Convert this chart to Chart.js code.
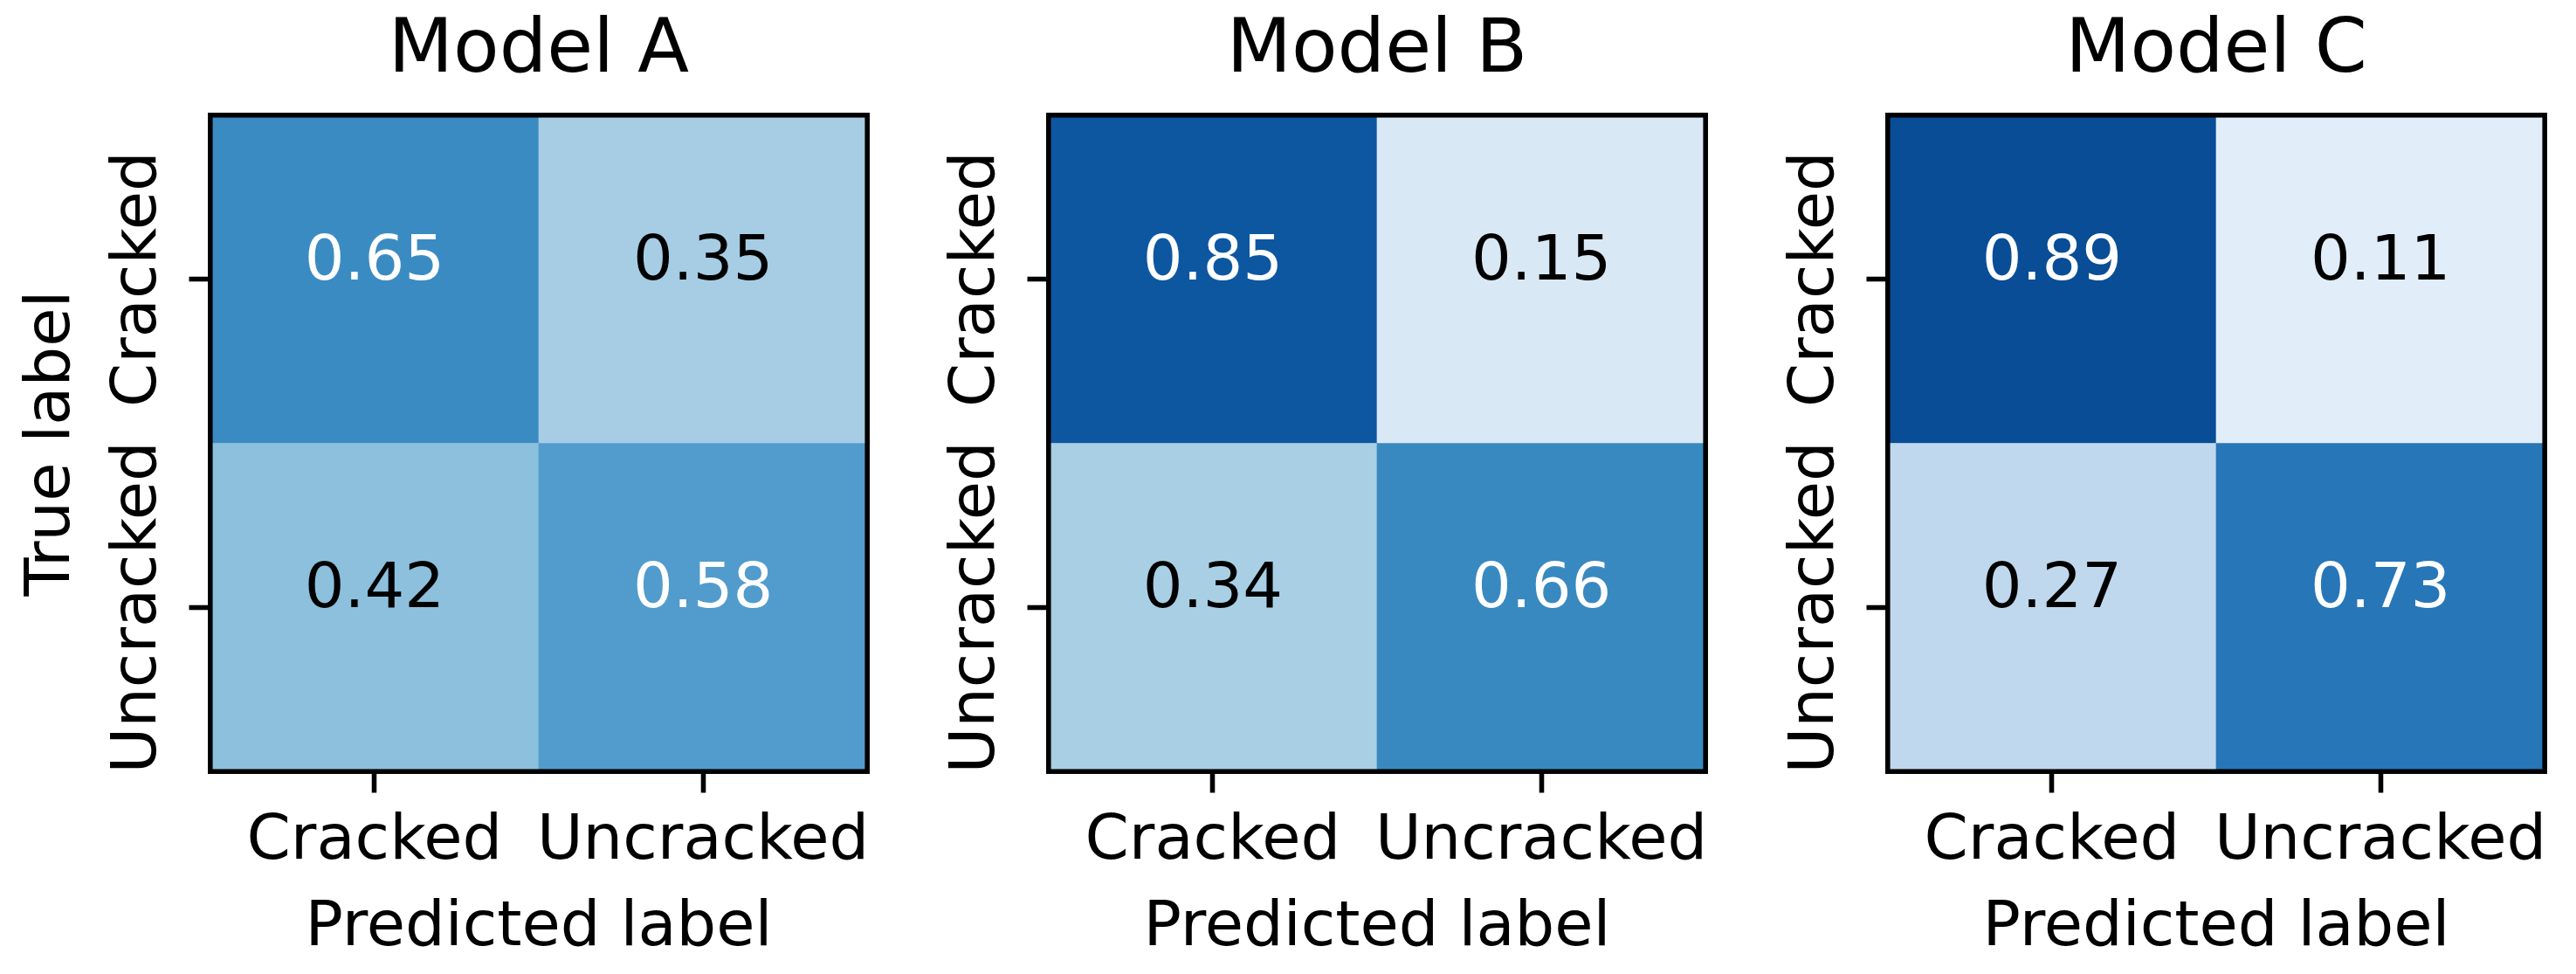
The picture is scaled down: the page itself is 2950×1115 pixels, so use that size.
<!DOCTYPE html>
<html>
<head>
<meta charset="utf-8">
<script src="https://cdn.jsdelivr.net/npm/chart.js@4.4.0/dist/chart.umd.min.js"></script>
<style>
  html, body { margin: 0; padding: 0; background: #fff; overflow: hidden; }
  #wrap { position: relative; width: 2950px; height: 1115px; }
  canvas { position: absolute; top: 0; }
</style>
</head>
<body>
<div id="wrap">
  <canvas id="cmA" width="1000" height="1115" style="left:0px"></canvas>
  <canvas id="cmB" width="1000" height="1115" style="left:960px"></canvas>
  <canvas id="cmC" width="1000" height="1115" style="left:1921px"></canvas>
</div>
<script>
// labels
var predictedLabels = ['Cracked', 'Uncracked'];
var trueLabels = ['Cracked', 'Uncracked'];
var modelNames = ['Model A', 'Model B', 'Model C'];

// normalized confusion matrices, rows = true label, cols = predicted label
var matrixA = [[0.65, 0.35], [0.42, 0.58]];
var matrixB = [[0.85, 0.15], [0.34, 0.66]];
var matrixC = [[0.89, 0.11], [0.27, 0.73]];

// matplotlib "Blues"
var blues = ['#f7fbff', '#deebf7', '#c6dbef', '#9ecae1', '#6baed6', '#4292c6', '#2171b5', '#08519c', '#08306b'];

function hexRgb(h) {
  return [parseInt(h.substr(1, 2), 16), parseInt(h.substr(3, 2), 16), parseInt(h.substr(5, 2), 16)];
}

function bluesColor(v) {
  var t = Math.max(0, Math.min(1, v)) * (blues.length - 1);
  var i = Math.min(Math.floor(t), blues.length - 2);
  var f = t - i;
  var a = hexRgb(blues[i]), b = hexRgb(blues[i + 1]);
  var c = a.map(function (x, k) { return Math.round(x + (b[k] - x) * f); });
  return 'rgb(' + c.join(',') + ')';
}

Chart.defaults.font.family = '"DejaVu Sans"';
Chart.defaults.color = '#000';

var FONT = 72;
var LW = 5.56;

// bottom row first so the stack builds upwards
function makeDatasets(matrix) {
  var sets = [];
  for (var r = trueLabels.length - 1; r >= 0; r--) {
    sets.push({
      label: trueLabels[r],
      data: predictedLabels.map(function () { return 1; }),
      values: matrix[r],
      backgroundColor: matrix[r].map(bluesColor),
      borderWidth: 0,
      barPercentage: 1,
      categoryPercentage: 1
    });
  }
  return sets;
}

var cellText = {
  id: 'cellText',
  afterDatasetsDraw: function (chart) {
    var ctx = chart.ctx;
    ctx.save();
    ctx.font = '72px "DejaVu Sans"';
    ctx.textAlign = 'center';
    ctx.textBaseline = 'alphabetic';
    chart.data.datasets.forEach(function (ds, di) {
      chart.getDatasetMeta(di).data.forEach(function (bar, j) {
        var v = ds.values[j];
        ctx.fillStyle = v > 0.5 ? '#ffffff' : '#000000';
        ctx.fillText(v.toFixed(2), bar.x, (bar.y + bar.base) / 2);
      });
    });
    ctx.restore();
  }
};

var frame = {
  id: 'frame',
  afterDatasetsDraw: function (chart) {
    var a = chart.chartArea, ctx = chart.ctx;
    ctx.save();
    ctx.strokeStyle = '#000';
    ctx.lineWidth = LW;
    ctx.strokeRect(a.left, a.top, a.right - a.left, a.bottom - a.top);
    ctx.restore();
  }
};

// y tick labels are drawn rotated, reading upwards
var yTickText = {
  id: 'yTickText',
  afterDraw: function (chart) {
    var s = chart.scales.y, ctx = chart.ctx;
    ctx.save();
    ctx.font = FONT + 'px "DejaVu Sans"';
    ctx.fillStyle = '#000';
    ctx.textAlign = 'center';
    ctx.textBaseline = 'alphabetic';
    s.ticks.forEach(function (t) {
      ctx.save();
      ctx.translate(s.right - 62.8, s.getPixelForValue(t.value));
      ctx.rotate(-Math.PI / 2);
      ctx.fillText(t.label, 0, 0);
      ctx.restore();
    });
    ctx.restore();
  }
};

function drawMatrix(id, name, matrix, showYTitle) {
  new Chart(document.getElementById(id), {
    type: 'bar',
    data: { labels: predictedLabels, datasets: makeDatasets(matrix) },
    plugins: [cellText, frame, yTickText],
    options: {
      responsive: false,
      animation: false,
      devicePixelRatio: 1,
      layout: { padding: { left: 0, right: 6.8, top: 0, bottom: 0 } },
      plugins: {
        legend: { display: false },
        tooltip: { enabled: false },
        title: {
          display: true,
          text: name,
          fullSize: false,
          font: { size: 86, weight: 'normal' },
          color: '#000',
          padding: { top: 8, bottom: 20.6 }
        }
      },
      scales: {
        x: {
          stacked: true,
          offset: true,
          grid: { display: true, drawOnChartArea: false, drawTicks: true, tickLength: 24.3, tickWidth: LW, tickColor: '#000', offset: false },
          border: { display: false },
          ticks: { font: { size: FONT }, color: '#000', padding: 14, maxRotation: 0, minRotation: 0, autoSkip: false },
          title: { display: true, text: 'Predicted label', font: { size: FONT }, color: '#000', padding: { top: 0, bottom: 9 } },
          afterFit: function (s) { s.height = 231.8; s.paddingLeft = 0; s.paddingRight = 0; }
        },
        y: {
          stacked: true,
          min: 0,
          max: trueLabels.length,
          afterBuildTicks: function (s) {
            s.ticks = trueLabels.map(function (l, i) { return { value: i + 0.5 }; });
          },
          grid: { display: true, drawOnChartArea: false, drawTicks: true, tickLength: 24.3, tickWidth: LW, tickColor: '#000' },
          border: { display: false },
          ticks: {
            display: false,
            callback: function (v) { return trueLabels[trueLabels.length - 1 - Math.floor(v)]; }
          },
          title: { display: showYTitle, text: 'True label', font: { size: FONT }, color: '#000', padding: { top: 17, bottom: 0 } },
          afterFit: function (s) { s.width = 240.8; s.paddingTop = 0; s.paddingBottom = 0; }
        }
      }
    }
  });
}

drawMatrix('cmA', modelNames[0], matrixA, true);
drawMatrix('cmB', modelNames[1], matrixB, false);
drawMatrix('cmC', modelNames[2], matrixC, false);
</script>
</body>
</html>
